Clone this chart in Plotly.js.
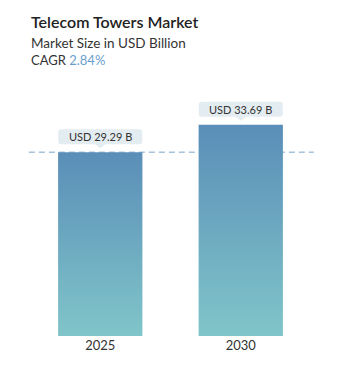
<!DOCTYPE html>
<html>
<head>
<meta charset="utf-8">
<script src="https://cdn.plot.ly/plotly-3.0.1.min.js"></script>
<style>
html,body{margin:0;padding:0;background:#fff;}
#chart{width:351px;height:371px;}
</style>
</head>
<body>
<div id="chart"></div>
<script>
// ---- data ----
const years = ['2025', '2030'];
const marketSize = [29.29, 33.69];
const valueLabels = ['USD 29.29 B', 'USD 33.69 B'];
const chartTitle = 'Telecom Towers Market';
const chartSubtitle = 'Market Size in USD Billion';
const cagrLabel = 'CAGR';
const cagrValue = '2.84%';

// ---- layout constants ----
const W = 351, H = 371;
const M = {l: 30, r: 40, t: 100, b: 35};
const plotH = H - M.t - M.b;
const yMax = 37.64;
const barHalf = 0.3;
const FONT = 'Lato, "Open Sans", sans-serif';
const topColor = '#5a8eb8';
const bottomColor = '#80c5c9';

function pyToPaper(py) { return (H - M.b - py) / plotH; }

const traces = years.map((yr, i) => ({
  type: 'scatter',
  mode: 'lines',
  x: [i - barHalf, i + barHalf, i + barHalf, i - barHalf, i - barHalf],
  y: [0, 0, marketSize[i], marketSize[i], 0],
  fill: 'toself',
  line: {width: 0, color: 'rgba(0,0,0,0)'},
  fillcolor: topColor,
  fillgradient: {
    type: 'vertical',
    start: 0,
    stop: marketSize[i],
    colorscale: [[0, bottomColor], [1, topColor]]
  },
  hoverinfo: 'skip',
  showlegend: false
}));

const boxPath = 'M -39,8 L -5,8 L 0,4 L 5,8 L 39,8 Q 42,8 42,11 L 42,20 Q 42,23 39,23 ' +
                'L -39,23 Q -42,23 -42,20 L -42,11 Q -42,8 -39,8 Z';

const shapes = [
  {
    type: 'line', xref: 'paper', yref: 'y',
    x0: -0.004, x1: 1.01, y0: marketSize[0], y1: marketSize[0],
    line: {color: '#a8c4dc', width: 1.5, dash: '6px,4px'},
    layer: 'below'
  }
].concat(years.map((yr, i) => ({
  type: 'path',
  xref: 'x', yref: 'y',
  xsizemode: 'pixel', ysizemode: 'pixel',
  xanchor: i, yanchor: marketSize[i],
  path: boxPath,
  fillcolor: '#e3ecf0',
  line: {width: 0}
})));

const annotations = years.map((yr, i) => ({
  x: i, y: marketSize[i], xref: 'x', yref: 'y',
  text: valueLabels[i],
  showarrow: false,
  yanchor: 'middle', yshift: 15.5,
  font: {family: FONT, size: 11, color: '#333333'}
})).concat([
  {
    xref: 'paper', yref: 'paper', x: 0, y: pyToPaper(21), xanchor: 'left', yanchor: 'middle',
    xshift: -1,
    text: chartTitle, showarrow: false,
    font: {family: FONT, size: 16, color: '#222222', weight: 600}
  },
  {
    xref: 'paper', yref: 'paper', x: 0, y: pyToPaper(42.5), xanchor: 'left', yanchor: 'middle',
    xshift: -1,
    text: chartSubtitle, showarrow: false,
    font: {family: FONT, size: 13.5, color: '#333333'}
  },
  {
    xref: 'paper', yref: 'paper', x: 0, y: pyToPaper(60.5), xanchor: 'left', yanchor: 'middle',
    xshift: -1,
    text: cagrLabel + ' <span style="color:#6a9fcf">' + cagrValue + '</span>', showarrow: false,
    font: {family: FONT, size: 13, color: '#333333'}
  }
]);

const layout = {
  width: W, height: H,
  margin: M,
  paper_bgcolor: '#ffffff',
  plot_bgcolor: '#ffffff',
  font: {family: FONT},
  xaxis: {
    range: [-0.5, 1.5],
    tickvals: years.map((y, i) => i),
    ticktext: years,
    showgrid: false, zeroline: false, showline: false,
    ticks: '', fixedrange: true,
    tickfont: {family: FONT, size: 13, color: '#333333'}
  },
  yaxis: {
    range: [0, yMax],
    visible: false, showgrid: false, zeroline: false, fixedrange: true
  },
  shapes: shapes,
  annotations: annotations,
  showlegend: false
};

Plotly.newPlot('chart', traces, layout, {displayModeBar: false, staticPlot: true});
</script>
</body>
</html>
